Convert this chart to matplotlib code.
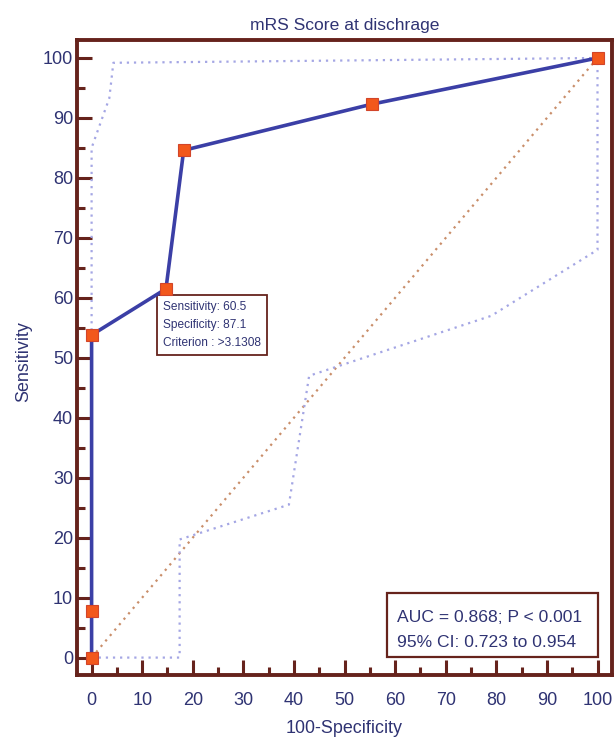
import matplotlib
matplotlib.use('agg')
import matplotlib.pyplot as plt
from matplotlib.ticker import MultipleLocator
from matplotlib.patches import Rectangle

plt.rcParams['font.family'] = ['Liberation Sans', 'DejaVu Sans']

# ROC points (100-specificity, sensitivity)
roc_x = [0, 0, 0, 14.7, 18.2, 55.4, 100]
roc_y = [0, 7.7, 53.8, 61.5, 84.6, 92.3, 100]

# 95% confidence bounds
upper_x = [0, 0, 3.5, 4.3, 100]
upper_y = [0, 85, 93.3, 99.2, 100]
lower_x = [0, 17.4, 17.4, 39, 43, 79, 100, 100]
lower_y = [0, 0, 19.7, 25.5, 47, 57, 68, 100]

cut_text = 'Sensitivity: 60.5\nSpecificity: 87.1\nCriterion : >3.1308'
auc_lines = ['AUC = 0.868; P < 0.001', '95% CI: 0.723 to 0.954']

brown = '#66231c'
navy = '#2f3373'
line_blue = '#3b3fa6'

fig = plt.figure(figsize=(6.14, 7.38), dpi=100)
ax = fig.add_axes([0.1257, 0.0854, 0.8705, 0.8604])

ax.plot([0, 100], [0, 100], linestyle=(0, (1, 2.2)), color='#c98e6a', lw=1.6)
ax.plot(upper_x, upper_y, linestyle=(0, (1, 2.2)), color='#a4a6e4', lw=1.6)
ax.plot(lower_x, lower_y, linestyle=(0, (1, 2.2)), color='#a4a6e4', lw=1.6)
ax.plot(roc_x, roc_y, color=line_blue, lw=2.6, marker='s', markersize=8,
        markerfacecolor='#f2581c', markeredgecolor='#d2452a', markeredgewidth=0.8,
        zorder=5)

ax.set_xlim(-2.85, 102.8)
ax.set_ylim(-2.9, 103)

for s in ax.spines.values():
    s.set_color(brown)
    s.set_linewidth(2.8)

ax.xaxis.set_major_locator(MultipleLocator(10))
ax.xaxis.set_minor_locator(MultipleLocator(5))
ax.yaxis.set_major_locator(MultipleLocator(10))
ax.yaxis.set_minor_locator(MultipleLocator(5))
ax.tick_params(which='both', direction='in', color=brown, width=2.2)
ax.tick_params(which='major', length=11)
ax.tick_params(which='minor', length=6)
ax.tick_params(axis='x', which='major', labelsize=13, labelcolor=navy, pad=12)
ax.tick_params(axis='y', which='major', labelsize=13, labelcolor=navy, pad=3)

ax.set_title('mRS Score at dischrage', fontsize=12.6, color=navy, pad=7)
ax.set_xlabel('100-Specificity', fontsize=12.9, color=navy, labelpad=8)
ax.set_ylabel('Sensitivity', fontsize=12.9, color=navy)
ax.yaxis.set_label_coords(-0.084, 0.493)

# cut-off point callout
ax.annotate(cut_text, xy=(roc_x[3], roc_y[3]), xytext=(-2.4, -8.5),
            textcoords='offset points', ha='left', va='top', fontsize=8.6,
            color=navy, linespacing=1.68,
            bbox=dict(boxstyle='square,pad=0.5', fc='white', ec=brown, lw=1.3))

# AUC box
ax.add_patch(Rectangle((0.5794, 0.0283), 0.3944, 0.1008, transform=ax.transAxes,
                       fc='white', ec=brown, lw=1.6, zorder=6))
ax.text(0.598, 0.0835, auc_lines[0], transform=ax.transAxes, ha='left',
        va='baseline', fontsize=12.6, color=navy, zorder=7)
ax.text(0.598, 0.0441, auc_lines[1], transform=ax.transAxes, ha='left',
        va='baseline', fontsize=12.6, color=navy, zorder=7)

fig.savefig('out.png', dpi=100)
